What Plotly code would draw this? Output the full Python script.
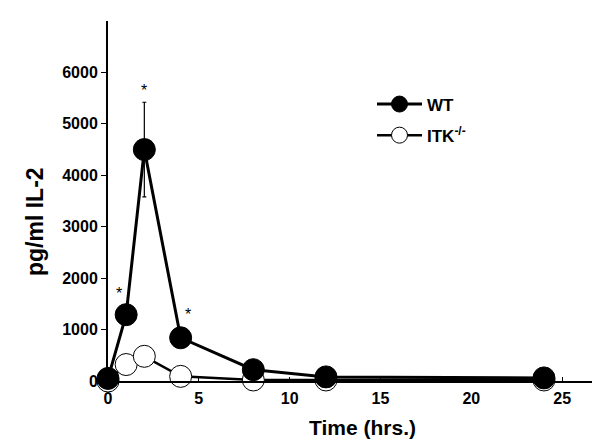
import plotly.graph_objects as go

time_wt = [0, 1, 2, 4, 8, 12, 24]
il2_wt = [50, 1290, 4500, 840, 220, 80, 60]
err_wt = [0, 0, 920, 0, 0, 0, 0]

time_itk = [0, 1, 2, 4, 8, 12, 24]
il2_itk = [0, 320, 480, 90, 20, 20, 20]

star_x = [0.6, 2, 4.4]
star_y = [1700, 5650, 1300]

x_ticks = [0, 5, 10, 15, 20, 25]
y_ticks = [0, 1000, 2000, 3000, 4000, 5000, 6000]

FONT = "Arial, Liberation Sans, sans-serif"
OFF = 8  # default page body margin in the browser
W, H = 600 - OFF, 447 - OFF
L, R, T, B = 108 - OFF, 7, 21 - OFF, 66
PW, PH = W - L - R, H - T - B


def px_x(p):
    return (p - OFF - L) / PW


def px_y(p):
    return (H - B - (p - OFF)) / PH


fig = go.Figure()
fig.add_trace(go.Scatter(
    x=time_itk, y=il2_itk, mode="lines+markers", name="ITK<sup>-/-</sup>",
    line=dict(color="black", width=2.5),
    marker=dict(size=22, color="white", line=dict(color="black", width=1)),
    cliponaxis=False, legendrank=2, legendgroup="itk",
))
fig.add_trace(go.Scatter(
    x=time_wt, y=il2_wt, mode="lines+markers", name="WT",
    line=dict(color="black", width=3),
    marker=dict(size=22, color="black", line=dict(color="black", width=1)),
    error_y=dict(type="data", array=err_wt, visible=True, color="black",
                 thickness=1.2, width=2),
    cliponaxis=False, legendrank=1, legendgroup="wt",
))

for sx, sy in zip(star_x, star_y):
    fig.add_annotation(x=sx, y=sy, text="*", showarrow=False,
                       font=dict(family=FONT, size=16, color="black"))

fig.add_annotation(x=px_x(35), y=px_y(222), xref="paper", yref="paper",
                   xanchor="center", yanchor="middle",
                   text="pg/ml IL-2", textangle=-90, showarrow=False,
                   font=dict(family=FONT, size=23, color="black", weight="bold"))
fig.add_annotation(x=px_x(362), y=px_y(427), xref="paper", yref="paper",
                   xanchor="center", yanchor="middle",
                   text="Time (hrs.)", showarrow=False,
                   font=dict(family=FONT, size=21, color="black", weight="bold"))

fig.update_layout(
    width=W, height=H,
    margin=dict(l=L, r=R, t=T, b=B, autoexpand=False),
    plot_bgcolor="white", paper_bgcolor="white",
    showlegend=True,
    legend=dict(x=px_x(372), y=px_y(120), xanchor="left", yanchor="middle",
                bgcolor="rgba(0,0,0,0)", itemwidth=45, tracegroupgap=6,
                font=dict(family=FONT, size=17, color="black", weight="bold")),
    xaxis=dict(range=[0, 26.7], tickvals=x_ticks, ticks="inside", ticklen=4,
               tickwidth=1, tickcolor="black", automargin=False, ticklabelstandoff=2,
               showline=True, linecolor="black", linewidth=2, showgrid=False, zeroline=False,
               tickfont=dict(family=FONT, size=16, color="black", weight="bold")),
    yaxis=dict(range=[0, 7000], tickvals=y_ticks, ticks="outside", ticklen=5,
               tickwidth=1, tickcolor="black", automargin=False,
               showline=True, linecolor="black", linewidth=2, showgrid=False, zeroline=False,
               tickfont=dict(family=FONT, size=16, color="black", weight="bold")),
)

fig.write_html("out.html")
